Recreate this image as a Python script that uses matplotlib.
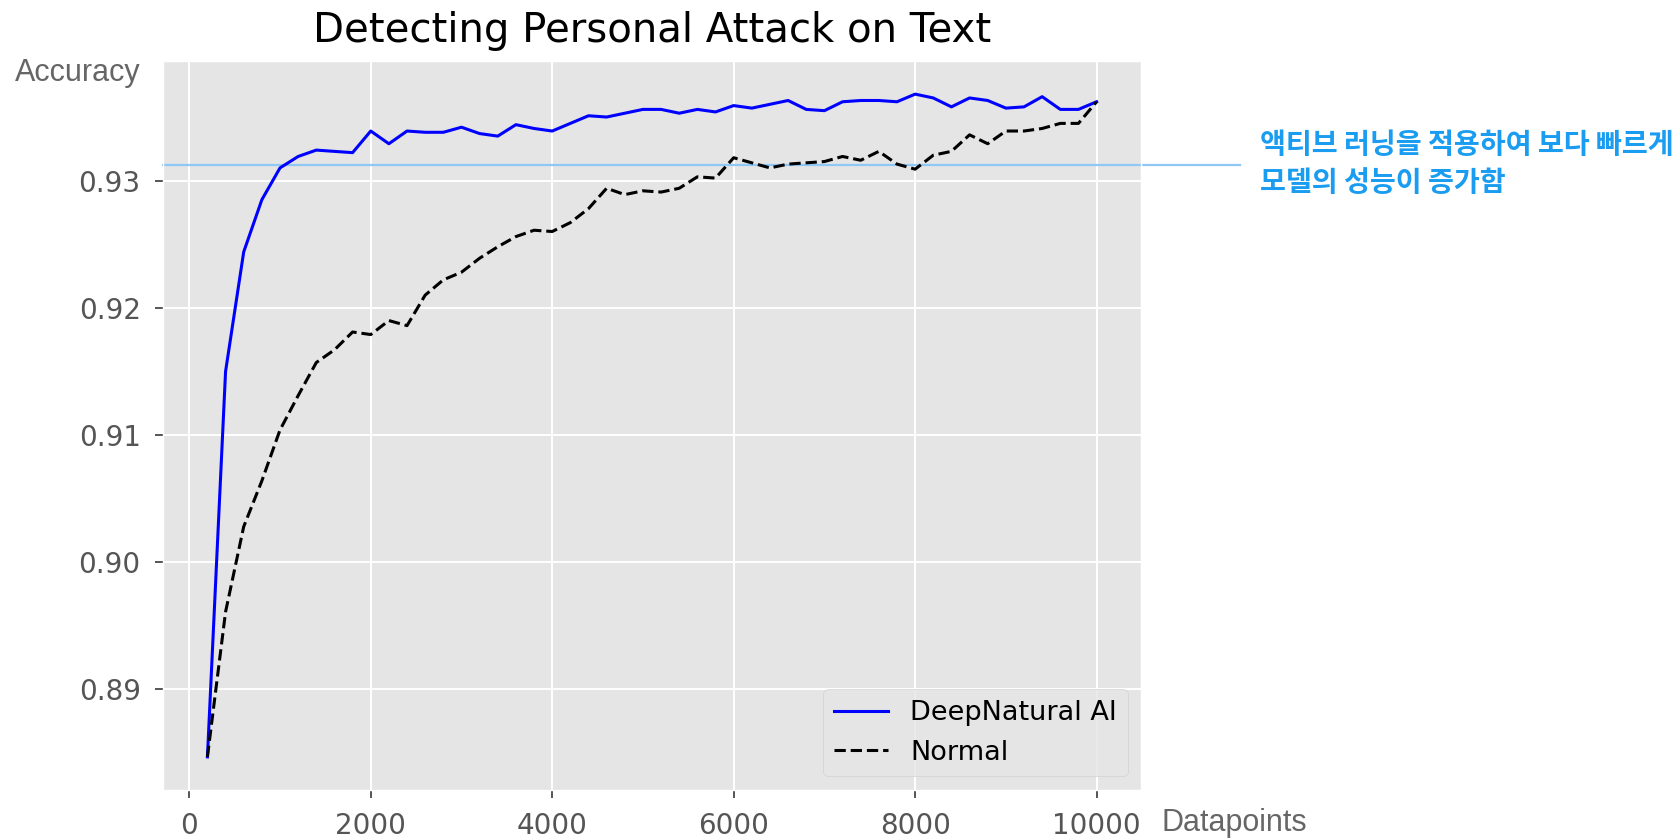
import matplotlib
matplotlib.use("Agg")
import matplotlib.pyplot as plt

plt.style.use("ggplot")
plt.rcParams["font.family"] = ["DejaVu Sans"]

# data
datapoints = list(range(200, 10001, 200))

deepnatural = [
    0.8847, 0.9150, 0.9244, 0.9285, 0.9310, 0.9319, 0.9324, 0.9323, 0.9322, 0.9339,
    0.9329, 0.9339, 0.9338, 0.9338, 0.9342, 0.9337, 0.9335, 0.9344, 0.9341, 0.9339,
    0.9345, 0.9351, 0.9350, 0.9353, 0.9356, 0.9356, 0.9353, 0.9356, 0.9354, 0.9359,
    0.9357, 0.9360, 0.9363, 0.9356, 0.9355, 0.9362, 0.9363, 0.9363, 0.9362, 0.9368,
    0.9365, 0.9358, 0.9365, 0.9363, 0.9357, 0.9358, 0.9366, 0.9356, 0.9356, 0.9362,
]

normal = [
    0.8847, 0.8961, 0.9028, 0.9064, 0.9104, 0.9131, 0.9157, 0.9167, 0.9181, 0.9179,
    0.9190, 0.9186, 0.9210, 0.9222, 0.9228, 0.9239, 0.9248, 0.9256, 0.9261, 0.9260,
    0.9267, 0.9278, 0.9294, 0.9289, 0.9292, 0.9291, 0.9294, 0.9303, 0.9302, 0.9318,
    0.9314, 0.9310, 0.9313, 0.9314, 0.9315, 0.9319, 0.9316, 0.9323, 0.9313, 0.9309,
    0.9320, 0.9323, 0.9336, 0.9329, 0.9339, 0.9339, 0.9341, 0.9345, 0.9345, 0.9362,
]

reference_level = 0.9312

title = "Detecting Personal Attack on Text"
note = "액티브 러닝을 적용하여 보다 빠르게\n모델의 성능이 증가함"

# ---------------------------------------------------------------------------

fig = plt.figure(figsize=(16.8, 8.39), dpi=100)
fig.patch.set_facecolor("white")
ax = fig.add_axes([0.0970, 0.0584, 0.5822, 0.8689])
ax.set_facecolor("#E5E5E5")
ax.grid(True, color="white", linewidth=1.4)

ax.plot(datapoints, deepnatural, color="blue", linewidth=2.2, label="DeepNatural AI")
ax.plot(datapoints, normal, color="black", linestyle="--", linewidth=2.2, label="Normal")

ax.axhline(reference_level, xmin=0, xmax=1.101, color="#90C8F5",
           linewidth=1.6, clip_on=False, zorder=1)

ax.tick_params(axis="both", labelsize=20, colors="#555555", length=6, width=1.4, pad=10)
ax.set_yticks([0.89, 0.90, 0.91, 0.92, 0.93])

ax.set_title(title, fontsize=29, color="black", pad=14)

leg = ax.legend(loc="lower right", fontsize=19.5, facecolor="#E5E5E5",
                edgecolor="#CCCCCC", framealpha=0.8)
for t in leg.get_texts():
    t.set_color("black")

fig.text(15 / 1680, 1 - 73 / 839, "Accuracy", fontsize=22, color="#666666",
         family="Liberation Sans", va="center", ha="left")
fig.text(1162 / 1680, 1 - 823 / 839, "Datapoints", fontsize=22, color="#666666",
         family="Liberation Sans", va="center", ha="left")

fig.text(1260 / 1680, 1 - 164 / 839, note, fontsize=20.3, color="#1A9CF0",
         family=["Noto Sans CJK KR", "DejaVu Sans"], fontweight="bold",
         va="center", ha="left", linespacing=1.45)

fig.savefig("out.png", dpi=100)
